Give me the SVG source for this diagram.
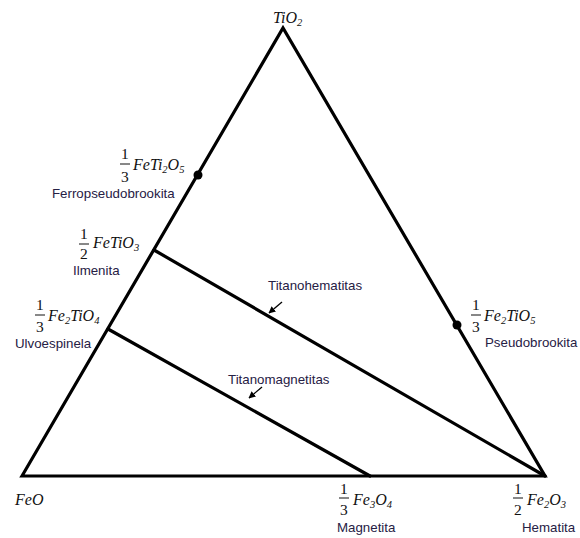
<svg xmlns="http://www.w3.org/2000/svg" width="580" height="538" viewBox="0 0 580 538">
<style>
.ln{stroke:#000;stroke-width:3.2;fill:none;stroke-linejoin:miter;stroke-linecap:round}
.f{font-family:"Liberation Serif","Times New Roman",serif;font-style:italic;font-size:16px;fill:#111}
.n{font-family:"Liberation Serif","Times New Roman",serif;font-size:15.5px;fill:#111}
.s{font-size:10.5px}
.lb{font-family:"Liberation Sans",Arial,sans-serif;font-size:13.3px;fill:#262044}
.bar{stroke:#111;stroke-width:1}
.ar{stroke:#000;stroke-width:1.3;fill:none}
</style>
<defs>
<marker id="ah" viewBox="0 0 10 10" refX="9" refY="5" markerWidth="7" markerHeight="7" orient="auto" markerUnits="userSpaceOnUse">
<path d="M0,0 L10,5 L0,10 z" fill="#000"/>
</marker>
</defs>
<rect width="580" height="538" fill="#fff"/>
<g id="connectors">
<path class="ln" d="M22,476 L283,28 L545,476 Z"/>
<line class="ln" x1="154" y1="250" x2="545" y2="476"/>
<line class="ln" x1="108" y1="329" x2="370" y2="476"/>
<line class="ar" x1="282" y1="302" x2="269" y2="313" marker-end="url(#ah)"/>
<line class="ar" x1="262" y1="387" x2="249" y2="398" marker-end="url(#ah)"/>
</g>
<g id="TiO2">
<text class="f" x="273" y="23">TiO<tspan class="s" dy="3">2</tspan></text>
</g>
<g id="ferropseudobrookita">
<circle cx="198" cy="175" r="4.5" fill="#000"/>
<text class="n" x="121" y="159">1</text>
<line class="bar" x1="120" y1="164" x2="130" y2="164"/>
<text class="n" x="121" y="182">3</text>
<text class="f" x="133" y="170">FeTi<tspan class="s" dy="3">2</tspan><tspan dy="-3">O</tspan><tspan class="s" dy="3">5</tspan></text>
<text class="lb" x="52" y="198">Ferropseudobrookita</text>
</g>
<g id="ilmenita">
<text class="n" x="80" y="239">1</text>
<line class="bar" x1="79" y1="244" x2="89" y2="244"/>
<text class="n" x="80" y="259">2</text>
<text class="f" x="93" y="248">FeTiO<tspan class="s" dy="3">3</tspan></text>
<text class="lb" x="73" y="275">Ilmenita</text>
</g>
<g id="ulvoespinela">
<text class="n" x="36" y="310">1</text>
<line class="bar" x1="35" y1="315" x2="45" y2="315"/>
<text class="n" x="36" y="332">3</text>
<text class="f" x="48" y="321">Fe<tspan class="s" dy="3">2</tspan><tspan dy="-3">TiO</tspan><tspan class="s" dy="3">4</tspan></text>
<text class="lb" x="15" y="348">Ulvoespinela</text>
</g>
<g id="pseudobrookita">
<circle cx="457" cy="325" r="4.5" fill="#000"/>
<text class="n" x="472" y="310">1</text>
<line class="bar" x1="471" y1="315" x2="481" y2="315"/>
<text class="n" x="472" y="332">3</text>
<text class="f" x="484" y="321">Fe<tspan class="s" dy="3">2</tspan><tspan dy="-3">TiO</tspan><tspan class="s" dy="3">5</tspan></text>
<text class="lb" x="485" y="347">Pseudobrookita</text>
</g>
<g id="FeO">
<text class="f" x="15" y="505">FeO</text>
</g>
<g id="magnetita">
<text class="n" x="340" y="494">1</text>
<line class="bar" x1="339" y1="498" x2="349" y2="498"/>
<text class="n" x="340" y="515">3</text>
<text class="f" x="353" y="505">Fe<tspan class="s" dy="3">3</tspan><tspan dy="-3">O</tspan><tspan class="s" dy="3">4</tspan></text>
<text class="lb" x="337" y="532">Magnetita</text>
</g>
<g id="hematita">
<text class="n" x="514" y="494">1</text>
<line class="bar" x1="513" y1="498" x2="523" y2="498"/>
<text class="n" x="514" y="515">2</text>
<text class="f" x="527" y="505">Fe<tspan class="s" dy="3">2</tspan><tspan dy="-3">O</tspan><tspan class="s" dy="3">3</tspan></text>
<text class="lb" x="522" y="532">Hematita</text>
</g>
<g id="titanohematitas">
<text class="lb" x="268" y="290">Titanohematitas</text>
</g>
<g id="titanomagnetitas">
<text class="lb" x="228" y="384">Titanomagnetitas</text>
</g>
</svg>
